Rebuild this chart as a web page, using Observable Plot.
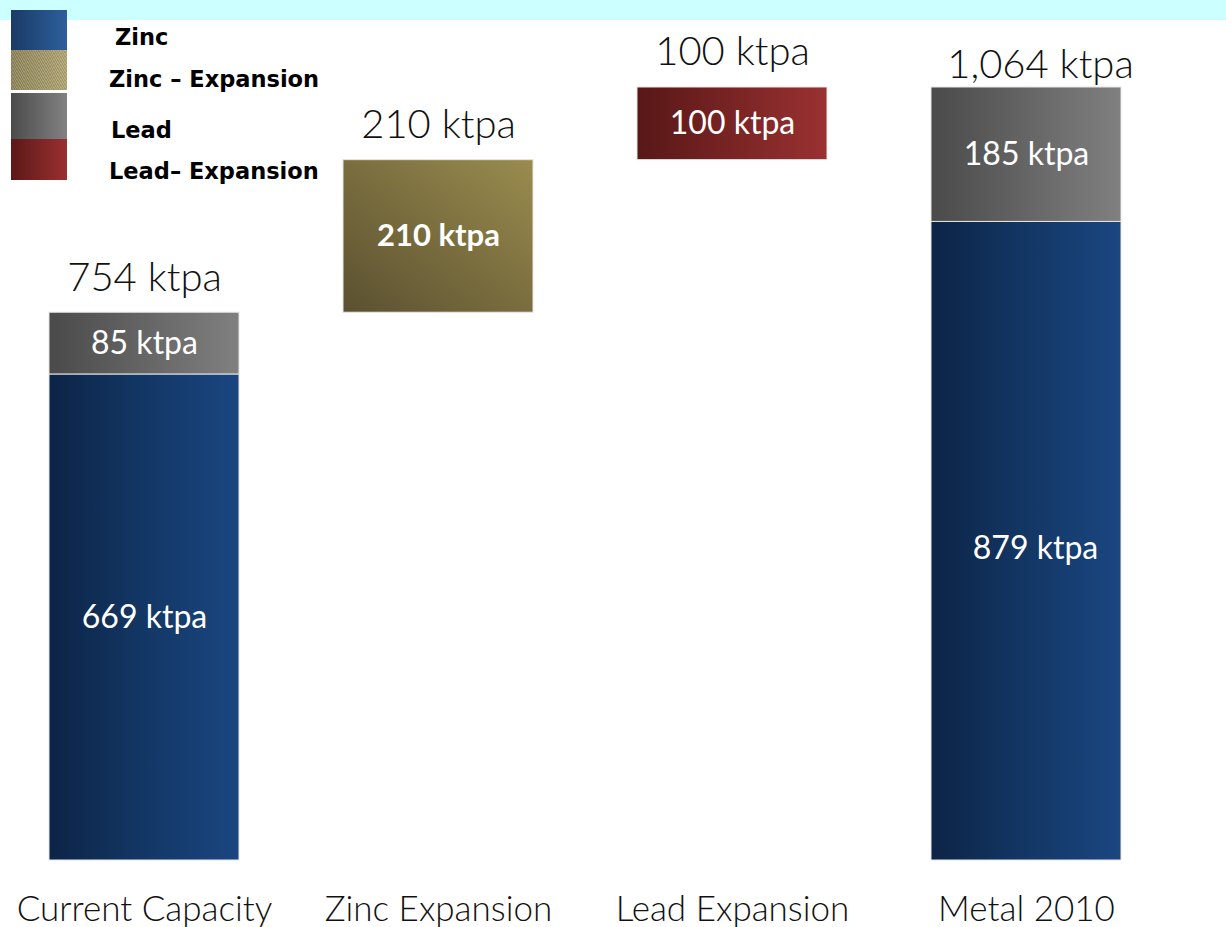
<!DOCTYPE html>
<html>
<head>
<meta charset="utf-8">
<script src="https://cdn.jsdelivr.net/npm/d3@7"></script>
<script src="https://cdn.jsdelivr.net/npm/@observablehq/plot@0.6"></script>
<style>
  html, body { margin: 0; padding: 0; background: #ffffff; }
  #wrap { position: relative; width: 1226px; height: 927px; overflow: hidden; }
  #strip { position: absolute; left: 0; top: 0; width: 1226px; height: 20px; background: #ccffff; }
  #chart { position: absolute; left: 0; top: 0; }
  #legend { position: absolute; left: 0; top: 0; width: 340px; height: 190px; }
  .sw { position: absolute; left: 11px; width: 56px; }
  .lt { position: absolute; font-family: "DejaVu Sans", sans-serif; font-weight: bold; font-size: 22.5px; color: #000; white-space: nowrap; line-height: 1; }
</style>
</head>
<body>
<div id="wrap">
  <div id="strip"></div>
  <div id="chart"></div>
  <div id="legend"></div>
</div>
<script>
// ---- data ----
const categories = ["Current Capacity", "Zinc Expansion", "Lead Expansion", "Metal 2010"];
const categoryKind = ["total", "step", "step", "total"];
const segCategory = ["Current Capacity", "Current Capacity", "Zinc Expansion", "Lead Expansion", "Metal 2010", "Metal 2010"];
const segSeries = ["Zinc", "Lead", "Zinc – Expansion", "Lead– Expansion", "Zinc", "Lead"];
const segValue = [669, 85, 210, 100, 879, 185];
const legendSeries = ["Zinc", "Zinc – Expansion", "Lead", "Lead– Expansion"];
const unit = "ktpa";

// ---- build waterfall table ----
const fmt = d3.format(",");
let running = 0;
const segments = [];
const totals = [];
categories.forEach((c, ci) => {
  const kind = categoryKind[ci];
  let base = kind === "total" ? 0 : running;
  const start = base;
  segValue.forEach((v, i) => {
    if (segCategory[i] !== c) return;
    segments.push({category: c, series: segSeries[i], value: v, y1: base, y2: base + v});
    base += v;
  });
  totals.push({category: c, top: base, total: base - start});
  running = base;
});

const fills = {
  "Zinc": "url(#gZinc)",
  "Lead": "url(#gLead)",
  "Zinc – Expansion": "url(#gZincExp)",
  "Lead– Expansion": "url(#gLeadExp)"
};

const labelFont = "Lato, 'Open Sans', sans-serif";
const segText = d => `${fmt(d.value)} ${unit}`;
const totText = d => `${fmt(d.total)} ${unit}`;

const plot = Plot.plot({
  width: 1226,
  height: 927,
  marginTop: 87,
  marginBottom: 67,
  marginLeft: 0,
  marginRight: 0,
  style: {background: "transparent", fontFamily: labelFont},
  x: {domain: categories, range: [-3, 1173], paddingInner: 0.354, paddingOuter: 0.177, label: null},
  y: {domain: [0, 1064], axis: null},
  marks: [
    Plot.barY(segments, {
      x: "category", y1: "y1", y2: "y2",
      fill: d => fills[d.series],
      stroke: "#e6e6e6", strokeWidth: 1
    }),
    Plot.text(segments.filter(d => d.series !== "Zinc – Expansion" && !(d.category === "Metal 2010" && d.series === "Zinc")), {
      x: "category", y: d => (d.y1 + d.y2) / 2,
      text: segText, fill: "white", fontSize: 32, fontWeight: 400
    }),
    Plot.text(segments.filter(d => d.category === "Metal 2010" && d.series === "Zinc"), {
      x: "category", y: d => (d.y1 + d.y2) / 2,
      text: segText, fill: "white", fontSize: 32, fontWeight: 400, dx: 9, dy: 8
    }),
    Plot.text(segments.filter(d => d.series === "Zinc – Expansion"), {
      x: "category", y: d => (d.y1 + d.y2) / 2,
      text: segText, fill: "white", fontSize: 31, fontWeight: "bold"
    }),
    Plot.text(totals.filter(d => d.category !== "Metal 2010"), {
      x: "category", y: "top",
      text: totText, fill: "#111", fontSize: 40, fontWeight: 300, dy: -35
    }),
    Plot.text(totals.filter(d => d.category === "Metal 2010"), {
      x: "category", y: "top",
      text: totText, fill: "#111", fontSize: 40, fontWeight: 300, dy: -22, dx: 14
    }),
    Plot.axisX({anchor: "bottom", tickSize: 0, tickPadding: 36, fontSize: 35, fontWeight: 300, fill: "#111", label: null})
  ]
});

const svg = d3.select(plot);
const defs = svg.insert("defs", ":first-child");
function grad(id, stops, x1 = 0, y1 = 0, x2 = 1, y2 = 0) {
  const g = defs.append("linearGradient").attr("id", id)
    .attr("x1", x1).attr("y1", y1).attr("x2", x2).attr("y2", y2);
  stops.forEach(([o, c]) => g.append("stop").attr("offset", o).attr("stop-color", c));
}
grad("gZinc", [[0, "#0c2446"], [0.5, "#133765"], [1, "#1a4681"]]);
grad("gLead", [[0, "#4a4a4a"], [1, "#808080"]]);
grad("gLeadExp", [[0, "#581717"], [1, "#9a3131"]]);
grad("gZincExp", [[0, "#5a5030"], [1, "#9a8c4e"]], 0, 1, 1, 0);

document.getElementById("chart").appendChild(plot);

// ---- legend ----
const legend = document.getElementById("legend");
const swatchStyles = {
  "Zinc": {top: 10, h: 40, bg: "linear-gradient(to right, #1b3a66, #2d5f9c)"},
  "Zinc – Expansion": {top: 50, h: 40, bg: "repeating-linear-gradient(60deg, rgba(255,255,255,0.12) 0 1px, rgba(0,0,0,0.06) 1px 2px), linear-gradient(to right, #8c8258, #b0a472)"},
  "Lead": {top: 93, h: 46, bg: "linear-gradient(to right, #4b4b4b, #828282)"},
  "Lead– Expansion": {top: 139, h: 41, bg: "linear-gradient(to right, #5c1818, #9a3030)"}
};
const textPos = {
  "Zinc": {left: 115, top: 26},
  "Zinc – Expansion": {left: 109, top: 68},
  "Lead": {left: 111, top: 119},
  "Lead– Expansion": {left: 109, top: 160}
};
legendSeries.forEach(s => {
  const sw = document.createElement("div");
  sw.className = "sw";
  sw.style.top = swatchStyles[s].top + "px";
  sw.style.height = swatchStyles[s].h + "px";
  sw.style.background = swatchStyles[s].bg;
  legend.appendChild(sw);
  const t = document.createElement("div");
  t.className = "lt";
  t.style.left = textPos[s].left + "px";
  t.style.top = textPos[s].top + "px";
  t.textContent = s;
  legend.appendChild(t);
});
</script>
</body>
</html>
